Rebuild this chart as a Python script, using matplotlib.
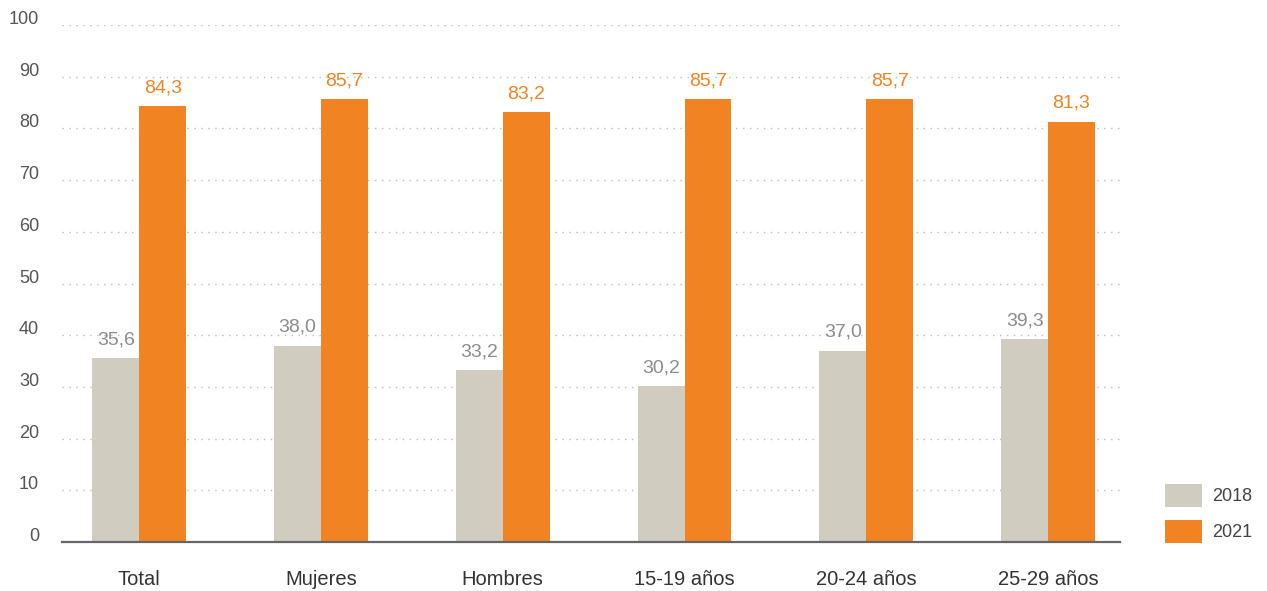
import numpy as np
import matplotlib.pyplot as plt
import matplotlib.transforms as mtransforms

# ---------- DATA ----------
categories = ["Total", "Mujeres", "Hombres", "15-19 años", "20-24 años", "25-29 años"]
vals_2018 = [35.6, 38.0, 33.2, 30.2, 37.0, 39.3]
vals_2021 = [84.3, 85.7, 83.2, 85.7, 85.7, 81.3]
series_labels = ["2018", "2021"]
y_ticks = [0, 10, 20, 30, 40, 50, 60, 70, 80, 90, 100]

# ---------- STYLE ----------
GRAY = "#D0CDC0"
ORANGE = "#F28322"
plt.rcParams['font.family'] = ['Liberation Sans', 'DejaVu Sans']

fig = plt.figure(figsize=(12.67, 5.91), dpi=100)
ax = fig.add_axes([0.0489, 0.0829, 0.8351, 0.8748])

x = np.arange(len(categories))
w = 0.258
b1 = ax.bar(x - w / 2, vals_2018, w, color=GRAY, label=series_labels[0], zorder=3)
b2 = ax.bar(x + w / 2, vals_2021, w, color=ORANGE, label=series_labels[1], zorder=3)

# value labels with comma decimals
for bars, vals, col in [(b1, vals_2018, "#8C8C8C"), (b2, vals_2021, ORANGE)]:
    for r, v in zip(bars, vals):
        ax.annotate(f"{v:.1f}".replace(".", ","),
                    (r.get_x() + r.get_width() / 2, v),
                    xytext=(0, 7), textcoords="offset points",
                    ha="center", va="bottom", fontsize=14, color=col)

ax.set_xlim(-0.4255, 5.396)
ax.set_ylim(0, 100)
ax.set_yticks(y_ticks)
ax.set_xticks(x)
ax.set_xticklabels(categories, fontsize=14.5, color="#333333")
ax.tick_params(axis="x", length=0, pad=20)
ax.tick_params(axis="y", length=0, pad=16.5, labelsize=13, labelcolor="#555555")

# nudge y tick labels up a bit (they sit above the gridlines)
off = mtransforms.ScaledTranslation(0, 7.5 / 100, fig.dpi_scale_trans)
for lab in ax.get_yticklabels():
    lab.set_transform(lab.get_transform() + off)

ax.grid(axis="y", color="#BBBBBB", linewidth=1, linestyle=(0, (1, 4)), zorder=0)
ax.grid(axis="x", visible=False)
for s in ["top", "right", "left"]:
    ax.spines[s].set_visible(False)
ax.spines["bottom"].set_color("#666666")
ax.spines["bottom"].set_linewidth(1.6)
ax.spines["bottom"].set_zorder(4)

fig.legend(handles=[b1, b2], labels=series_labels, loc="lower left",
           bbox_to_anchor=(1165 / 1267, 1 - 543 / 591), frameon=False,
           fontsize=13, handlelength=2.05, handleheight=1.6,
           labelspacing=0.72, handletextpad=0.55, borderpad=0, borderaxespad=0,
           labelcolor="#444444")

fig.savefig("out.png", dpi=100)
